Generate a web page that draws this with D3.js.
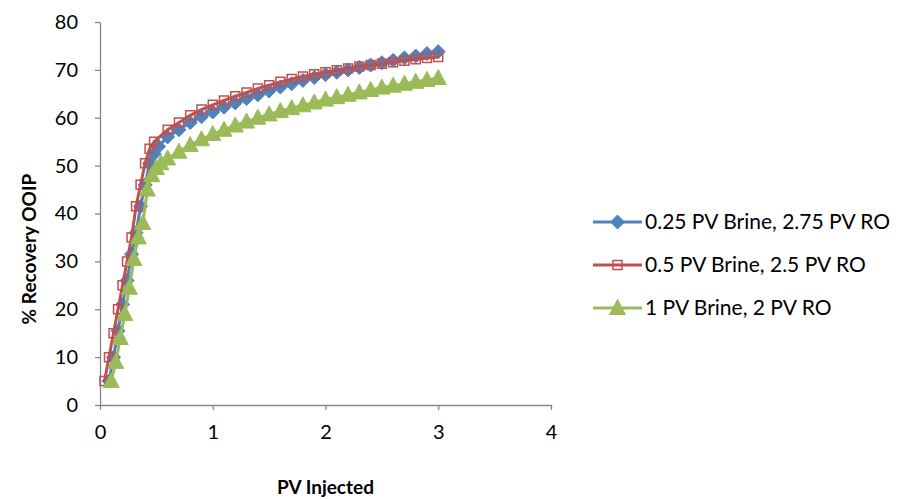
<!DOCTYPE html>
<html>
<head>
<meta charset="utf-8">
<script src="https://cdn.jsdelivr.net/npm/d3@7"></script>
<style>
  html, body { margin: 0; padding: 0; background: #fff; }
  svg text { font-family: Lato, "Open Sans", sans-serif; fill: #000; }
</style>
</head>
<body>
<svg id="chart" width="898" height="499"></svg>
<script>
// ---- data ----
const seriesNames = ["0.25 PV Brine, 2.75 PV RO", "0.5 PV Brine, 2.5 PV RO", "1 PV Brine, 2 PV RO"];

const blueX = [0.08,0.12,0.16,0.20,0.24,0.28,0.32,0.36,0.40,0.44,0.48,0.52,
  0.6,0.7,0.8,0.9,1.0,1.1,1.2,1.3,1.4,1.5,1.6,1.7,1.8,1.9,2.0,2.1,2.2,2.3,2.4,2.5,2.6,2.7,2.8,2.9,3.0];
const blueY = [5,10,15.5,21,26,31.5,36,41.5,46,50.5,52.5,54,
  56,57.5,59,60.2,61.2,62.2,63.1,64,64.8,65.6,66.4,67.1,67.8,68.4,69,69.5,70,70.5,71,71.5,72,72.5,72.9,73.4,73.8];

const redX = [0.04,0.08,0.12,0.16,0.20,0.24,0.28,0.32,0.36,0.40,0.44,0.48,
  0.6,0.7,0.8,0.9,1.0,1.1,1.2,1.3,1.4,1.5,1.6,1.7,1.8,1.9,2.0,2.1,2.2,2.3,2.4,2.5,2.6,2.7,2.8,2.9,3.0];
const redY = [5,10,15,20,25,30,35,41.5,46,50.5,53.5,55,
  57.5,59,60.5,61.7,62.7,63.6,64.5,65.3,66.1,66.8,67.5,68.1,68.6,69.1,69.5,69.9,70.3,70.7,71,71.3,71.6,71.9,72.2,72.5,72.7];

const greenX = [0.10,0.14,0.18,0.22,0.26,0.30,0.34,0.38,0.42,0.46,0.50,0.54,
  0.6,0.7,0.8,0.9,1.0,1.1,1.2,1.3,1.4,1.5,1.6,1.7,1.8,1.9,2.0,2.1,2.2,2.3,2.4,2.5,2.6,2.7,2.8,2.9,3.0];
const greenY = [5,9,14,19,24.5,30.5,35,38,45,48,49.5,50.5,
  51.5,52.9,54.3,55.5,56.6,57.5,58.4,59.2,60,60.7,61.4,62,62.6,63.2,63.8,64.3,64.8,65.3,65.8,66.3,66.7,67.1,67.5,67.9,68.3];

const xTicks = [0,1,2,3,4];
const yTicks = [0,10,20,30,40,50,60,70,80];
const xTitle = "PV Injected";
const yTitle = "% Recovery OOIP";

// ---- layout ----
const svg = d3.select("#chart");
const plot = {left: 100, right: 551, top: 22, bottom: 405};
const x = d3.scaleLinear().domain([0, 4]).range([plot.left, plot.right]);
const y = d3.scaleLinear().domain([0, 80]).range([plot.bottom, plot.top]);
const axisColor = "#868686";

// axes
const gx = svg.append("g").attr("transform", `translate(0,${plot.bottom})`)
  .call(d3.axisBottom(x).tickValues(xTicks).tickFormat(d3.format("d")).tickSize(5).tickSizeOuter(0).tickPadding(15));
const gy = svg.append("g").attr("transform", `translate(${plot.left},0)`)
  .call(d3.axisLeft(y).tickValues(yTicks).tickFormat(d3.format("d")).tickSize(5).tickSizeOuter(0).tickPadding(17));
[gx, gy].forEach(g => {
  g.select(".domain").attr("stroke", axisColor).attr("stroke-width", 1.3);
  g.selectAll(".tick line").attr("stroke", axisColor).attr("stroke-width", 1.3);
  g.selectAll(".tick text").attr("font-size", 20).attr("font-family", "Lato, sans-serif").attr("fill", "#000");
});

svg.append("text").attr("x", (plot.left + plot.right) / 2).attr("y", 494)
  .attr("text-anchor", "middle").attr("font-size", 19).attr("font-weight", "bold").text(xTitle);
svg.append("text").attr("transform", `translate(36,249) rotate(-90)`)
  .attr("text-anchor", "middle").attr("font-size", 19).attr("font-weight", "bold").text(yTitle);

// series
const series = [
  {name: seriesNames[0], xs: blueX, ys: blueY, color: "#4F81BD", marker: "diamond"},
  {name: seriesNames[1], xs: redX, ys: redY, color: "#C0504D", marker: "square"},
  {name: seriesNames[2], xs: greenX, ys: greenY, color: "#9BBB59", marker: "triangle"}
];

function markerPath(type) {
  if (type === "diamond") return "M0,-7L7,0L0,7L-7,0Z";
  if (type === "square") return "M-4.5,-4.5H4.5V4.5H-4.5Z";
  return "M0,-8.5L8,6.5L-8,6.5Z";
}
function drawMarker(g, type, color) {
  if (type === "square") {
    g.append("path").attr("d", markerPath(type)).attr("fill", "none").attr("stroke", color).attr("stroke-width", 1.5);
  } else {
    g.append("path").attr("d", markerPath(type)).attr("fill", color).attr("stroke", color).attr("stroke-width", 1);
  }
}

const line = d3.line().x(d => x(d[0])).y(d => y(d[1]));
series.forEach(s => {
  const pts = s.xs.map((v, i) => [v, s.ys[i]]);
  const g = svg.append("g");
  g.append("path").datum(pts).attr("d", line).attr("fill", "none")
    .attr("stroke", s.color).attr("stroke-width", 3).attr("stroke-linejoin", "round");
  pts.forEach(p => {
    const m = g.append("g").attr("transform", `translate(${x(p[0])},${y(p[1])})`);
    drawMarker(m, s.marker, s.color);
  });
});

// legend
const legendY = [222, 265, 308];
series.forEach((s, i) => {
  const g = svg.append("g").attr("transform", `translate(593,${legendY[i]})`);
  g.append("line").attr("x1", 0).attr("x2", 49).attr("y1", 0).attr("y2", 0)
    .attr("stroke", s.color).attr("stroke-width", 3);
  const m = g.append("g").attr("transform", "translate(24.5,0)");
  drawMarker(m, s.marker, s.color);
  g.append("text").attr("x", 52).attr("y", 0).attr("dy", "0.35em")
    .attr("font-size", 21).text(s.name);
});
</script>
</body>
</html>
